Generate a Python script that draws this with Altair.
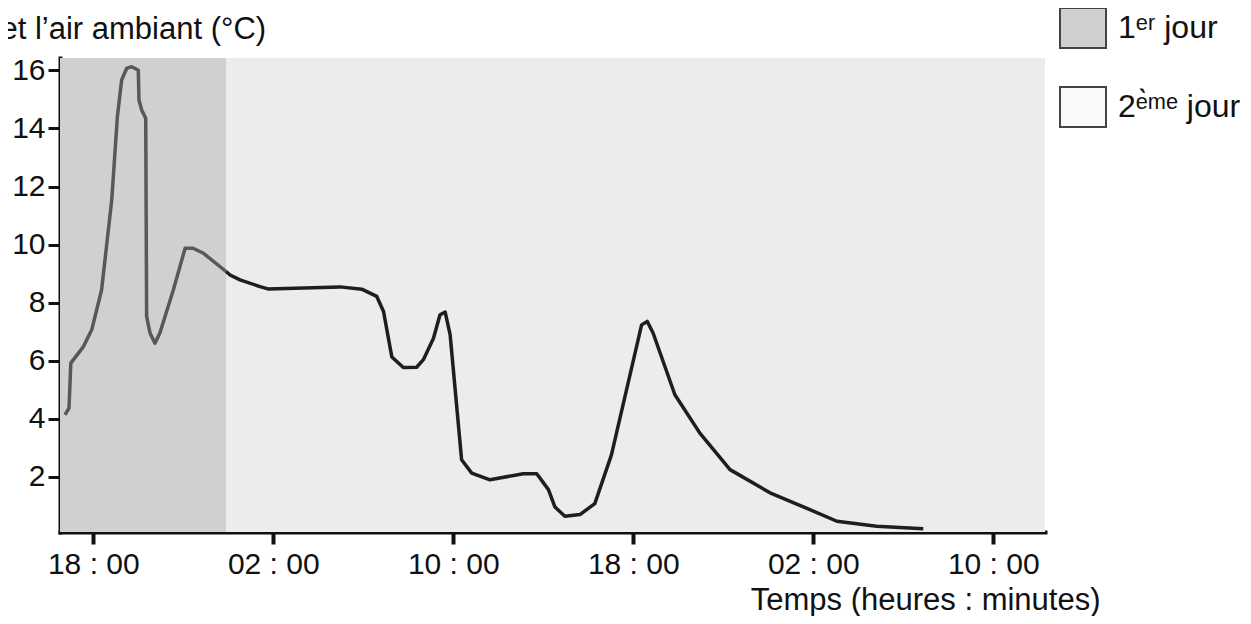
import json
import altair as alt
import pandas as pd

# ---- data (t = hours after 18:00 of day 1) ----
day1_t = [-1.26, -1.08, -1.0, -0.44, -0.07, 0.37, 0.82, 1.07, 1.26, 1.48, 1.71, 2.0,
          2.03, 2.15, 2.33, 2.37, 2.52, 2.74, 2.96, 3.56, 4.08, 4.44, 4.89, 5.9]
day1_v = [4.13, 4.36, 5.91, 6.48, 7.06, 8.44, 11.54, 14.40, 15.67, 16.07, 16.13, 16.01,
          14.98, 14.64, 14.35, 7.52, 6.95, 6.60, 6.95, 8.44, 9.87, 9.87, 9.70, 9.07]

day2_t = [5.9, 6.08, 6.52, 7.41, 7.76, 10.97, 11.93, 12.6, 12.9, 13.27, 13.78, 14.37,
          14.67, 15.12, 15.41, 15.64, 15.86, 16.37, 16.82, 17.63, 19.11, 19.71, 20.23,
          20.52, 20.96, 21.63, 22.29, 23.03, 24.37, 24.62, 24.88, 25.85, 26.96, 28.3,
          30.08, 31.85, 33.05, 34.82, 36.89]
day2_v = [9.07, 8.95, 8.78, 8.55, 8.47, 8.54, 8.46, 8.21, 7.69, 6.12, 5.76, 5.77,
          6.03, 6.77, 7.58, 7.67, 6.89, 2.58, 2.12, 1.89, 2.10, 2.10, 1.55,
          0.95, 0.63, 0.69, 1.07, 2.75, 7.23, 7.35, 6.95, 4.82, 3.50, 2.24,
          1.44, 0.86, 0.46, 0.29, 0.20]

days = ["1ᵉʳ jour", "2ᵉ̀ᵐᵉ jour"]
day_start = [-1.48, 5.9]
day_end = [5.9, 42.3]
band_colors = ["#d0d0d0", "#ececec"]
legend_colors = ["#d0d0d0", "#fafafa"]

tick_values = [0, 8, 16, 24, 32, 40]
tick_labels = ["18 : 00", "02 : 00", "10 : 00", "18 : 00", "02 : 00", "10 : 00"]
y_ticks = [2, 4, 6, 8, 10, 12, 14, 16]

x_domain = [-1.48, 42.3]
y_domain = [0.09, 16.43]

W, H = 985, 474
FONT = "Liberation Sans"

df1 = pd.DataFrame({"t": day1_t, "v": day1_v})
df2 = pd.DataFrame({"t": day2_t, "v": day2_v})
bands = pd.DataFrame({"day": days, "start": day_start, "end": day_end})

xscale = alt.Scale(domain=x_domain, nice=False, zero=False)
yscale = alt.Scale(domain=y_domain, nice=False, zero=False)

x_axis = alt.Axis(
    values=tick_values,
    labelExpr=f"{json.dumps(tick_labels)}[round(datum.value / 8)]",
    title="Temps (heures : minutes)",
    grid=False, tickSize=12, tickWidth=4, tickColor="#111",
    domainWidth=4, domainColor="#111", domainCap="square",
    labelFontSize=30, labelColor="#111", labelPadding=5, labelFlush=False,
    titleFontSize=31, titleFontWeight="normal", titleColor="#111",
    titleX=1040, titleY=77, titleAlign="right", titleBaseline="alphabetic",
)
y_axis = alt.Axis(
    values=y_ticks,
    title="et l’air ambiant (°C)",
    grid=False, tickSize=12, tickWidth=3, tickColor="#111",
    domainWidth=4, domainColor="#111", domainCap="square",
    labelFontSize=30, labelColor="#111", labelPadding=3,
    titleFontSize=31, titleFontWeight="normal", titleColor="#111",
    titleAngle=0, titleAlign="left", titleBaseline="alphabetic",
    titleX=-60, titleY=-20,
)

# shaded day bands
rects = alt.Chart(bands).mark_rect().encode(
    x=alt.X("start:Q", scale=xscale, axis=x_axis),
    x2="end:Q",
    y=alt.value(0),
    y2=alt.value(H),
    color=alt.Color("day:N", scale=alt.Scale(domain=days, range=band_colors), legend=None),
)

# zero-width copy of the bands that only carries the legend
legend_layer = alt.Chart(bands).mark_rect().encode(
    x=alt.X("start:Q", scale=xscale),
    x2="start:Q",
    y=alt.value(0),
    y2=alt.value(0),
    fill=alt.Fill(
        "day:N",
        scale=alt.Scale(domain=days, range=legend_colors),
        legend=alt.Legend(
            orient="none", legendX=1002, legendY=-51, title=None, padding=0,
            symbolType="M-1.15,-1H1.15V1H-1.15Z", symbolSize=1600,
            symbolStrokeColor="#444", symbolStrokeWidth=2, symbolOpacity=1,
            labelFontSize=32, labelFont=FONT, labelColor="#111",
            labelOffset=14, rowPadding=31,
        ),
    ),
)

line1 = alt.Chart(df1).mark_line(color="#585858", strokeWidth=3.5, strokeJoin="round").encode(
    x=alt.X("t:Q", scale=xscale, axis=x_axis),
    y=alt.Y("v:Q", scale=yscale, axis=y_axis),
    order="t:Q",
)
line2 = alt.Chart(df2).mark_line(color="#1e1e1e", strokeWidth=3.5, strokeJoin="round").encode(
    x=alt.X("t:Q", scale=xscale),
    y=alt.Y("v:Q", scale=yscale),
    order="t:Q",
)

chart = alt.layer(rects, legend_layer, line1, line2).resolve_scale(
    color="independent", fill="independent"
).properties(
    width=W, height=H,
    padding={"left": 52, "top": 50, "right": 198, "bottom": 84},
    autosize=alt.AutoSizeParams(type="none"),
).configure(font=FONT).configure_view(stroke=None)

chart.save("out.html", embed_options={"renderer": "svg", "actions": False})
